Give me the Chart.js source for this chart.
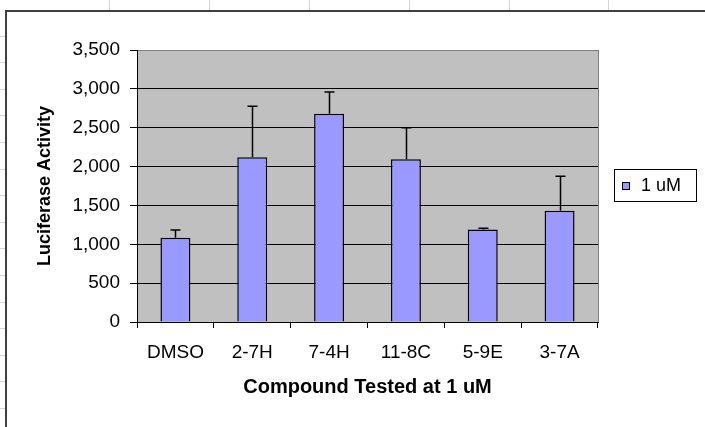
<!DOCTYPE html>
<html>
<head>
<meta charset="utf-8">
<title>Luciferase Activity</title>
<script src="https://cdn.jsdelivr.net/npm/chart.js@4"></script>
<style>
    html, body { margin: 0; padding: 0; background: #fff; }
    #wrap { position: relative; width: 705px; height: 427px; }
</style>
</head>
<body>
<div id="wrap"><canvas id="myChart" width="705" height="427"></canvas></div>
<script>
const compounds = ['DMSO', '2-7H', '7-4H', '11-8C', '5-9E', '3-7A'];
const activity = [1085, 2120, 2680, 2095, 1190, 1430];
const activityErr = [100, 655, 280, 405, 17, 445];   // plus side only
const seriesLabel = '1 uM';
const yMin = 0;
const yMax = 3500;
const yStep = 500;

const FONT = "'Liberation Sans', Arial, sans-serif";

// sheet gridlines + chart frame + grey plot area (Excel look)
const excelBackdrop = {
    id: 'excelBackdrop',
    beforeDraw(chart) {
        const ctx = chart.ctx;
        const { left, top, right, bottom } = chart.chartArea;
        ctx.save();
        ctx.fillStyle = '#fff';
        ctx.fillRect(0, 0, chart.width, chart.height);

        ctx.strokeStyle = '#d4d4d4';
        ctx.lineWidth = 1;
        [109, 209, 309, 409, 509, 608].forEach(x => {
            ctx.beginPath();
            ctx.moveTo(x + 0.5, 0);
            ctx.lineTo(x + 0.5, 10);
            ctx.stroke();
        });
        for (let y = 35.5; y < chart.height; y += 26.6) {
            ctx.beginPath();
            ctx.moveTo(0, Math.round(y) + 0.5);
            ctx.lineTo(5, Math.round(y) + 0.5);
            ctx.stroke();
        }

        ctx.strokeStyle = '#404040';
        ctx.lineWidth = 2;
        ctx.beginPath();
        ctx.moveTo(chart.width, 11);
        ctx.lineTo(6, 11);
        ctx.lineTo(6, chart.height);
        ctx.stroke();

        ctx.fillStyle = '#c0c0c0';
        ctx.fillRect(left, top, right - left, bottom - top);
        ctx.strokeStyle = '#808080';
        ctx.lineWidth = 1;
        ctx.beginPath();
        ctx.moveTo(Math.round(right) + 0.5, top);
        ctx.lineTo(Math.round(right) + 0.5, bottom);
        ctx.stroke();
        ctx.restore();
    }
};

const errorBars = {
    id: 'errorBars',
    afterDatasetsDraw(chart) {
        const ctx = chart.ctx;
        const yScale = chart.scales.y;
        ctx.save();
        ctx.strokeStyle = '#000';
        ctx.lineWidth = 1.5;
        chart.getDatasetMeta(0).data.forEach((bar, i) => {
            const yTop = yScale.getPixelForValue(activity[i] + activityErr[i]);
            const x = Math.round(bar.x) + 0.5;
            ctx.beginPath();
            ctx.moveTo(x, bar.y);
            ctx.lineTo(x, yTop);
            ctx.moveTo(x - 5, yTop);
            ctx.lineTo(x + 5, yTop);
            ctx.stroke();
        });
        ctx.restore();
    }
};

// boxed legend to the right of the plot
const boxLegend = {
    id: 'boxLegend',
    afterDraw(chart) {
        const ctx = chart.ctx;
        const ds = chart.data.datasets[0];
        ctx.save();
        ctx.fillStyle = '#fff';
        ctx.fillRect(614, 169, 83, 33);
        ctx.strokeStyle = '#000';
        ctx.lineWidth = 1;
        ctx.strokeRect(614.5, 169.5, 82, 32);
        ctx.fillStyle = ds.backgroundColor;
        ctx.fillRect(622, 182, 8, 8);
        ctx.strokeRect(622.5, 182.5, 7, 7);
        ctx.fillStyle = '#000';
        ctx.font = '18px ' + FONT;
        ctx.textBaseline = 'middle';
        ctx.fillText(ds.label, 641, 186);
        ctx.restore();
    }
};

function renderChart() {
    const ctx = document.getElementById('myChart').getContext('2d');

    const data = {
        labels: compounds,
        datasets: [{
            label: seriesLabel,
            data: activity,
            backgroundColor: '#9999ff',
            borderColor: '#000',
            borderWidth: 1.5,
            barPercentage: 0.39,
            categoryPercentage: 1.0
        }]
    };

    const config = {
        type: 'bar',
        data: data,
        options: {
            responsive: false,
            animation: false,
            layout: {
                padding: { left: 0, top: 50, right: 107, bottom: 10 }
            },
            scales: {
                x: {
                    grid: {
                        offset: true,
                        drawOnChartArea: false,
                        drawTicks: true,
                        tickLength: 6,
                        color: '#000'
                    },
                    border: { color: '#000', width: 1 },
                    ticks: {
                        color: '#000',
                        padding: 13,
                        maxRotation: 0,
                        font: { family: FONT, size: 19 }
                    },
                    title: {
                        display: true,
                        text: 'Compound Tested at 1 uM',
                        color: '#000',
                        font: { family: FONT, size: 20, weight: 'bold' },
                        padding: { top: 0, bottom: 18 }
                    },
                    afterFit: function (scale) { scale.height = 95; }
                },
                y: {
                    min: yMin,
                    max: yMax,
                    ticks: {
                        stepSize: yStep,
                        color: '#000',
                        padding: 10,
                        font: { family: FONT, size: 19 },
                        callback: function (value) { return value.toLocaleString('en-US'); }
                    },
                    grid: {
                        color: function (c) { return c.tick && c.tick.value === yMax ? '#808080' : '#000'; },
                        tickColor: '#000',
                        tickLength: 7,
                        lineWidth: 1
                    },
                    border: { color: '#000', width: 1 },
                    title: {
                        display: true,
                        text: 'Luciferase Activity',
                        color: '#000',
                        font: { family: FONT, size: 18, weight: 'bold' },
                        padding: { top: 34, bottom: 0 }
                    },
                    afterFit: function (scale) { scale.width = 137; }
                }
            },
            plugins: {
                legend: { display: false },
                tooltip: { enabled: false }
            }
        },
        plugins: [excelBackdrop, errorBars, boxLegend]
    };

    new Chart(ctx, config);
}

document.addEventListener('DOMContentLoaded', renderChart);
</script>
</body>
</html>
